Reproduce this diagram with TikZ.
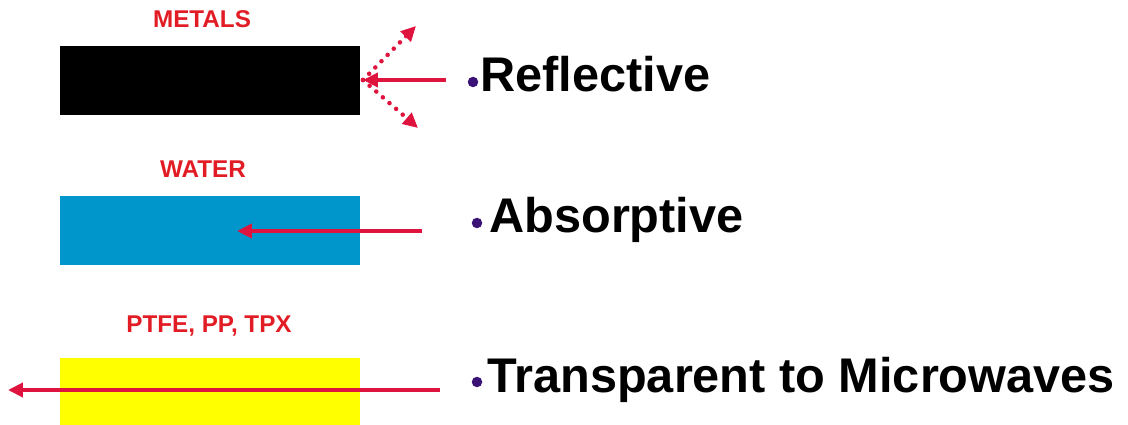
\documentclass[tikz,border=0pt]{standalone}
\usepackage{fontspec}
\setmainfont{Liberation Sans}
\usetikzlibrary{arrows.meta}
\definecolor{tagred}{RGB}{226,28,36}
\definecolor{rayred}{RGB}{222,20,62}
\definecolor{waterblue}{RGB}{0,150,204}
\definecolor{dotpurple}{RGB}{58,18,118}
\definecolor{ptfeyellow}{RGB}{255,255,0}
\newcommand{\slab}[4]{\node[slab, fill=#2] (#1) at (210,#3) {}; \node[tag] (#1tag) at (#4) {\MakeUppercase{#1}};}

\begin{document}
\begin{tikzpicture}[x = 0.02cm, y = -0.02cm,
  slab/.style = {minimum width = 6cm, minimum height = 1.38cm, inner sep = 0},
  tag/.style = {anchor = base, inner sep = 0, text = tagred, font = \bfseries\fontsize{13.8}{14}\selectfont},
  prop/.style = {anchor = base west, inner sep = 0, font = \bfseries\fontsize{27.7}{30}\selectfont},
  dot/.style = {circle, fill = dotpurple, minimum size = 0.21cm, inner sep = 0},
  ray/.style = {rayred, line width = 2.3pt, -{Triangle[length = 8.5pt, width = 8pt]}},
  bounce/.style = {ray, line width = 2.6pt, line cap = round, dash pattern = on 0pt off 5pt}]
\useasboundingbox (0,0) rectangle (1128,425);
\slab{metals}{black}{80.5}{202,28};
\slab{water}{waterblue}{230.5}{203,178};
\node[slab, fill = ptfeyellow, minimum height = 1.34cm] (plastic) at (210,391.5) {};
\node[tag] (plastictag) at (209,332) {PTFE, PP, TPX};
% properties
\node[prop] (refl) at (480,92) {Reflective};
\node[dot] (refldot) at (473,82) {};
\node[prop] (abs) at (489,233) {Absorptive};
\node[dot] (absdot) at (477,223) {};
\node[prop] (trans) at (487,392) {Transparent to Microwaves};
\node[dot] (transdot) at (477,382) {};
% metals
\coordinate (r0) at (446,80);
\coordinate (rhit) at (363,80);
\coordinate (rup) at (416,26);
\coordinate (rdown) at (418,128);
\draw[ray] (r0) -- (rhit);
\draw[bounce] (rhit) -- (rup);
\draw[bounce] (rhit) -- (rdown);
% water
\coordinate (w0) at (422,231);
\coordinate (wend) at (237,231);
\draw[ray] (w0) -- (wend);
% plastics
\coordinate (p0) at (440,390);
\coordinate (pend) at (8,390);
\draw[ray] (p0) -- (pend);
\end{tikzpicture}
\end{document}
